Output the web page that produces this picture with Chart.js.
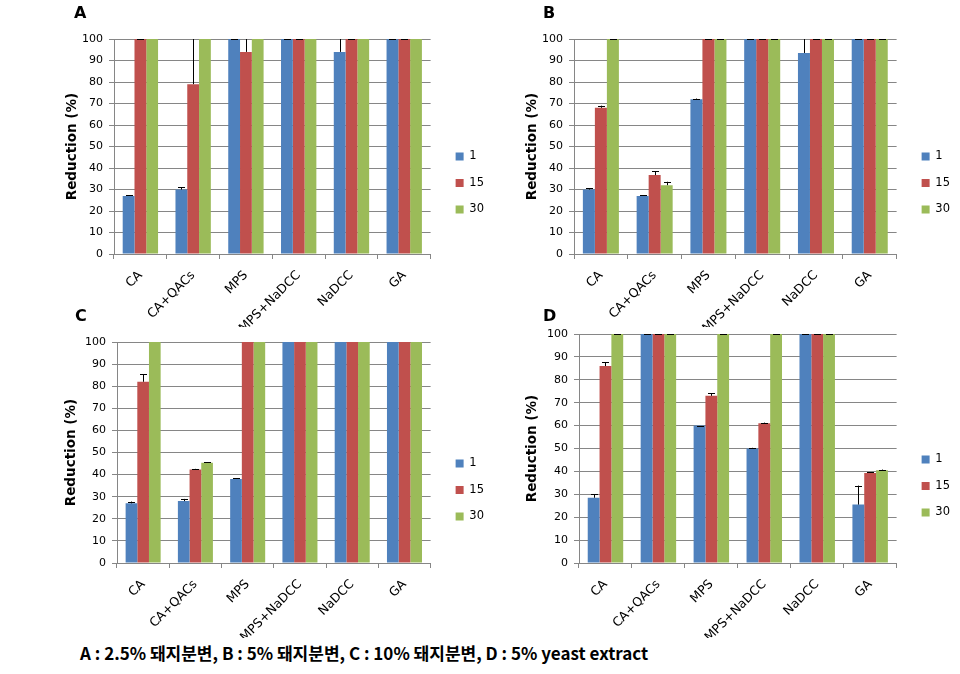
<!DOCTYPE html>
<html><head><meta charset="utf-8">
<script src="https://cdn.jsdelivr.net/npm/chart.js@4.4.1/dist/chart.umd.min.js"></script>
<style>
html,body{margin:0;padding:0;background:#fff;width:960px;height:674px;overflow:hidden;position:relative}
canvas{position:absolute;display:block}
#caption{position:absolute;left:80px;top:640px;font:bold 17px "Noto Sans CJK KR",sans-serif;color:#000;white-space:nowrap}
</style></head><body>
<canvas id="cA" width="434" height="327" style="left:60px;top:0px"></canvas>
<canvas id="cB" width="460" height="327" style="left:500px;top:0px"></canvas>
<canvas id="cC" width="434" height="333" style="left:60px;top:305px"></canvas>
<canvas id="cD" width="460" height="333" style="left:500px;top:305px"></canvas>
<div id="caption">A : 2.5% 돼지분변, B : 5% 돼지분변, C : 10% 돼지분변, D : 5% yeast extract</div>
<script>
// ---- data ----
const categories = ['CA', 'CA+QACs', 'MPS', 'MPS+NaDCC', 'NaDCC', 'GA'];
const seriesNames = ['1', '15', '30'];
const panelLabels = ['A', 'B', 'C', 'D'];
const yAxisTitle = 'Reduction (%)';

// Panel A
const A_1 = [27, 30, 100, 100, 94, 100];
const A_1_err = [0.3, 1, 0, 0, 8, 0];
const A_15 = [100, 79, 94, 100, 100, 100];
const A_15_err = [0, 25, 8, 0, 0, 0];
const A_30 = [100, 100, 100, 100, 100, 100];
const A_30_err = [null, null, null, null, null, null];
// Panel B
const B_1 = [30, 27, 72, 100, 93.5, 100];
const B_1_err = [0.6, 0.3, 0.3, 0, 8, 0];
const B_15 = [68, 36.7, 100, 100, 100, 100];
const B_15_err = [1, 1.8, 0, 0, 0, 0];
const B_30 = [100, 32, 100, 100, 100, 100];
const B_30_err = [0, 1.6, 0, 0, 0, 0];
// Panel C
const C_1 = [27, 28, 38, 100, 100, 100];
const C_1_err = [0.8, 1, 0.3, null, null, null];
const C_15 = [82, 42.3, 100, 100, 100, 100];
const C_15_err = [3.5, 0.3, null, null, null, null];
const C_30 = [100, 45.4, 100, 100, 100, 100];
const C_30_err = [null, 0.2, null, null, null, null];
// Panel D
const D_1 = [28.5, 100, 60, 50, 100, 25.5];
const D_1_err = [1.5, 0, 0, 0.3, 0, 8.3];
const D_15 = [86, 100, 73, 61, 100, 39.3];
const D_15_err = [1.6, 0, 1.2, 0.3, 0, 0.3];
const D_30 = [100, 100, 100, 100, 100, 40.5];
const D_30_err = [0, 0, 0, 0, 0, 0.3];

const colors = ['#4F81BD', '#C0504D', '#9BBB59'];
const gridColor = '#868686';

// ---- plugins ----
const errorBars = {
  id: 'errorBars',
  afterDatasetsDraw(chart) {
    const ctx = chart.ctx, area = chart.chartArea, ys = chart.scales.y;
    ctx.save();
    ctx.strokeStyle = '#000';
    ctx.lineWidth = 1;
    chart.data.datasets.forEach((ds, i) => {
      const errs = ds.errors;
      if (!errs) return;
      const meta = chart.getDatasetMeta(i);
      meta.data.forEach((bar, j) => {
        const e = errs[j];
        if (e === null || e === undefined) return;
        const x = Math.round(bar.x) + 0.5;
        const top = ys.getPixelForValue(ds.data[j] + e);
        const yt = Math.max(top, area.top);
        ctx.beginPath();
        ctx.moveTo(x, bar.y);
        ctx.lineTo(x, yt);
        if (top >= area.top - 0.5) {
          const yc = Math.round(top) + 0.5;
          ctx.moveTo(x - 3.5, yc);
          ctx.lineTo(x + 3.5, yc);
        }
        ctx.stroke();
      });
    });
    ctx.restore();
  }
};

const panelLetter = {
  id: 'panelLetter',
  afterDraw(chart, args, opts) {
    const ctx = chart.ctx;
    ctx.save();
    ctx.font = 'bold 16px "DejaVu Sans"';
    ctx.fillStyle = '#000';
    ctx.textBaseline = 'middle';
    ctx.textAlign = 'left';
    ctx.fillText(opts.text, opts.x, opts.y);
    ctx.restore();
  }
};

function makePanel(id, letter, s1, e1, s15, e15, s30, e30, g) {
  const series = [s1, s15, s30];
  const errs = [e1, e15, e30];
  return new Chart(document.getElementById(id), {
    type: 'bar',
    data: {
      labels: categories,
      datasets: seriesNames.map((n, i) => ({
        label: n,
        data: series[i],
        errors: errs[i],
        backgroundColor: colors[i],
        borderWidth: 0,
        categoryPercentage: 0.67,
        barPercentage: 1.0
      }))
    },
    plugins: [errorBars, panelLetter],
    options: {
      responsive: false,
      animation: false,
      events: [],
      layout: { padding: { top: g.top, left: 0, right: 0, bottom: 0 } },
      plugins: {
        tooltip: { enabled: false },
        title: { display: false },
        panelLetter: { text: letter, x: g.letterX, y: g.letterY },
        legend: {
          position: 'right',
          align: 'center',
          labels: {
            boxWidth: 8, boxHeight: 8, padding: 15,
            color: '#000',
            font: { family: 'DejaVu Sans', size: 11.5 }
          }
        }
      },
      scales: {
        x: {
          offset: true,
          grid: { display: true, drawOnChartArea: false, drawTicks: true, tickLength: 5, color: gridColor, offset: true },
          border: { display: true, color: gridColor },
          ticks: { minRotation: 45, maxRotation: 45, autoSkip: false, color: '#000', padding: 9,
                   font: { family: 'DejaVu Sans', size: 12.5 } },
          afterFit: s => { s.height = g.xH; }
        },
        y: {
          min: 0, max: 100,
          ticks: { stepSize: 10, color: '#000', padding: 6, font: { family: 'DejaVu Sans', size: 11 } },
          grid: { color: gridColor, tickLength: 5, drawTicks: true },
          border: { display: true, color: gridColor },
          title: { display: true, text: yAxisTitle, color: '#000',
                   font: { family: 'DejaVu Sans', size: 13.5, weight: 'bold' },
                   padding: { top: g.titlePad, bottom: 0 } },
          afterFit: s => { s.width = g.yW; }
        },
        gap: {
          position: 'right', display: true,
          grid: { display: false }, ticks: { display: false }, border: { display: false },
          afterFit: s => { s.width = 10; }
        }
      }
    }
  });
}

makePanel('cA', panelLabels[0], A_1, A_1_err, A_15, A_15_err, A_30, A_30_err,
  { top: 39, xH: 327 - 254, yW: 54, titlePad: 4, letterX: 14, letterY: 14 });
makePanel('cB', panelLabels[1], B_1, B_1_err, B_15, B_15_err, B_30, B_30_err,
  { top: 39, xH: 327 - 254, yW: 74, titlePad: 24, letterX: 43, letterY: 14 });
makePanel('cC', panelLabels[2], C_1, C_1_err, C_15, C_15_err, C_30, C_30_err,
  { top: 37, xH: 333 - 258, yW: 57, titlePad: 3, letterX: 15, letterY: 12 });
makePanel('cD', panelLabels[3], D_1, D_1_err, D_15, D_15_err, D_30, D_30_err,
  { top: 29, xH: 333 - 258, yW: 79, titlePad: 24, letterX: 43, letterY: 12 });
</script>
</body></html>
